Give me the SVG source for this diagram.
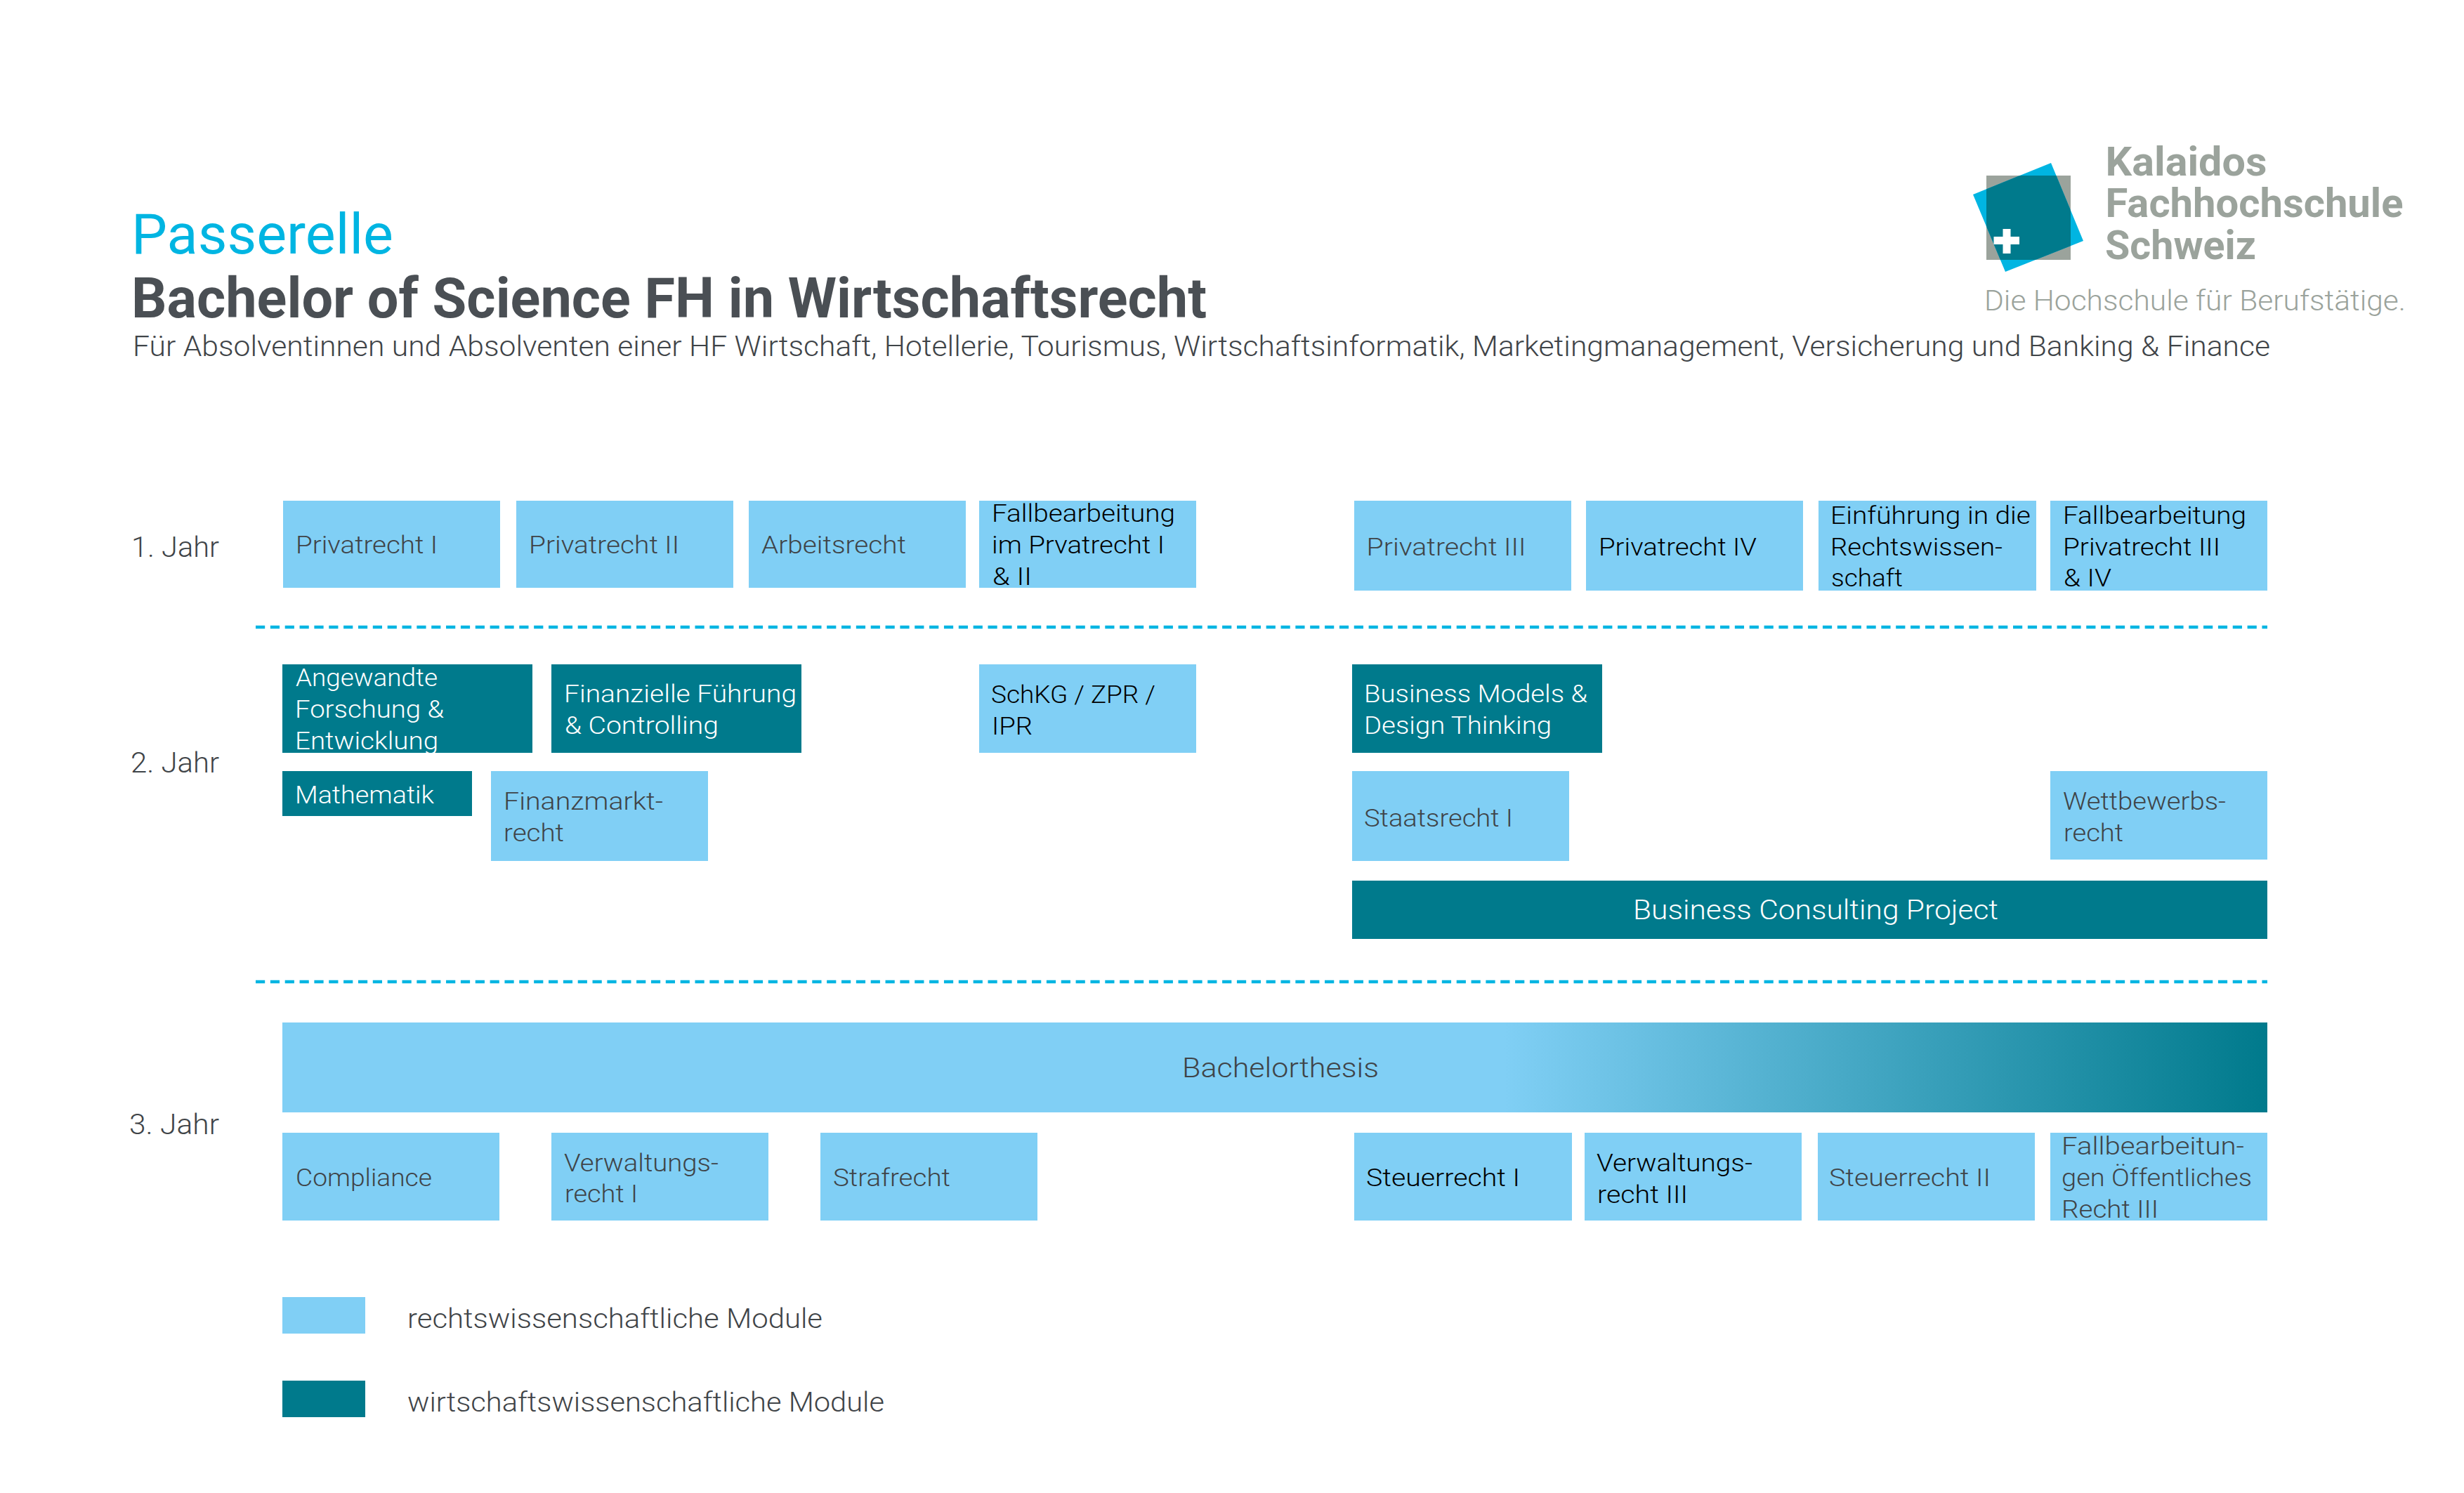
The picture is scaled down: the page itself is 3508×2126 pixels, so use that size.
<svg xmlns="http://www.w3.org/2000/svg" width="3508" height="2126" viewBox="0 0 3508 2126">
<defs>
<linearGradient id="thesis" gradientUnits="userSpaceOnUse" x1="2141" y1="0" x2="3228" y2="0">
<stop offset="0" stop-color="#80cff5"/><stop offset="1" stop-color="#007a8c"/>
</linearGradient>
<clipPath id="rot"><polygon points="2920,232 2966,343 2855,387 2809,277"/></clipPath>
</defs>
<style>
text{font-family:Roboto,"Liberation Sans",sans-serif;font-size:35px;font-weight:300;fill:#3f4448}
.l{fill:#80cff5}.t{fill:#007a8c}
.w{fill:#fff}.k{fill:#000}
.h38{font-size:38px}.h40{font-size:40px}
.div{stroke:#00b5e2;stroke-width:4.500;stroke-dasharray:13.200 7.650;fill:none}
.logo{fill:#9ba39c;font-weight:700;font-size:58px}
</style>
<rect width="3508" height="2126" fill="#fff"/>
<g id="logo">
<rect x="2828" y="250" width="120" height="120" fill="#9ba39c"/>
<polygon points="2920,232 2966,343 2855,387 2809,277" fill="#00b5e2"/>
<rect x="2828" y="250" width="120" height="120" fill="#007a8c" clip-path="url(#rot)"/>
<path d="M2851.500 326h11v11h12.500v11h-12.500v13h-11v-13h-13v-11h13z" fill="#fff"/>
<text class="logo" x="2997.500" y="250" textLength="230" lengthAdjust="spacingAndGlyphs">Kalaidos</text>
<text class="logo" x="2997.500" y="309" textLength="424" lengthAdjust="spacingAndGlyphs">Fachhochschule</text>
<text class="logo" x="2997" y="369" textLength="215" lengthAdjust="spacingAndGlyphs">Schweiz</text>
<text x="2825" y="442" textLength="600" lengthAdjust="spacingAndGlyphs" style="font-size:40px;fill:#9ba39c">Die Hochschule für Berufstätige.</text>
</g>
<g id="title">
<text x="187" y="361" textLength="373" lengthAdjust="spacingAndGlyphs" style="font-size:79px;font-weight:400;fill:#00b5e2">Passerelle</text>
<text x="187" y="452" textLength="1531" lengthAdjust="spacingAndGlyphs" style="font-size:79px;font-weight:700;fill:#4a4f54">Bachelor of Science FH in Wirtschaftsrecht</text>
<text class="h40" x="189" y="507" textLength="3043" lengthAdjust="spacingAndGlyphs">Für Absolventinnen und Absolventen einer HF Wirtschaft, Hotellerie, Tourismus, Wirtschaftsinformatik, Marketingmanagement, Versicherung und Banking &amp; Finance</text>
</g>
<g id="years">
<text class="h40" x="187" y="793" textLength="125" lengthAdjust="spacingAndGlyphs">1. Jahr</text>
<text class="h40" x="186" y="1100" textLength="126" lengthAdjust="spacingAndGlyphs">2. Jahr</text>
<text class="h40" x="184" y="1615" textLength="128" lengthAdjust="spacingAndGlyphs">3. Jahr</text>
</g>
<g id="connectors">
<line class="div" x1="364" y1="893" x2="3228" y2="893"/>
<line class="div" x1="364" y1="1398" x2="3228" y2="1398"/>
</g>
<g id="n1"><rect class="l" x="403" y="713" width="309" height="124"/><text x="421" y="788" textLength="202" lengthAdjust="spacingAndGlyphs">Privatrecht I</text></g>
<g id="n2"><rect class="l" x="735" y="713" width="309" height="124"/><text x="753" y="788" textLength="214" lengthAdjust="spacingAndGlyphs">Privatrecht II</text></g>
<g id="n3"><rect class="l" x="1066" y="713" width="309" height="124"/><text x="1084" y="788" textLength="206" lengthAdjust="spacingAndGlyphs">Arbeitsrecht</text></g>
<g id="n4"><rect class="l" x="1394" y="713" width="309" height="124"/><text class="k" x="1412" y="743" textLength="261" lengthAdjust="spacingAndGlyphs">Fallbearbeitung</text><text class="k" x="1412" y="788" textLength="246" lengthAdjust="spacingAndGlyphs">im Prvatrecht I</text><text class="k" x="1413" y="833" textLength="56" lengthAdjust="spacingAndGlyphs">&amp; II</text></g>
<g id="n5"><rect class="l" x="1928" y="713" width="309" height="128"/><text x="1945.500" y="791" textLength="227" lengthAdjust="spacingAndGlyphs">Privatrecht III</text></g>
<g id="n6"><rect class="l" x="2258" y="713" width="309" height="128"/><text class="k" x="2276" y="791" textLength="225" lengthAdjust="spacingAndGlyphs">Privatrecht IV</text></g>
<g id="n7"><rect class="l" x="2589" y="713" width="310" height="128"/><text class="k" x="2606" y="746" textLength="285" lengthAdjust="spacingAndGlyphs">Einführung in die</text><text class="k" x="2606" y="791" textLength="245" lengthAdjust="spacingAndGlyphs">Rechtswissen-</text><text class="k" x="2607" y="835" textLength="102" lengthAdjust="spacingAndGlyphs">schaft</text></g>
<g id="n8"><rect class="l" x="2919" y="713" width="309" height="128"/><text class="k" x="2937" y="746" textLength="261" lengthAdjust="spacingAndGlyphs">Fallbearbeitung</text><text class="k" x="2937" y="791" textLength="224" lengthAdjust="spacingAndGlyphs">Privatrecht III</text><text class="k" x="2938" y="835" textLength="68" lengthAdjust="spacingAndGlyphs">&amp; IV</text></g>
<g id="n9"><rect class="t" x="402" y="946" width="356" height="126"/><text class="w" x="421" y="977" textLength="202" lengthAdjust="spacingAndGlyphs">Angewandte</text><text class="w" x="420" y="1022" textLength="212" lengthAdjust="spacingAndGlyphs">Forschung &amp;</text><text class="w" x="420" y="1067" textLength="204" lengthAdjust="spacingAndGlyphs">Entwicklung</text></g>
<g id="n10"><rect class="t" x="785" y="946" width="356" height="126"/><text class="w" x="803" y="1000" textLength="331" lengthAdjust="spacingAndGlyphs">Finanzielle Führung</text><text class="w" x="804" y="1045" textLength="219" lengthAdjust="spacingAndGlyphs">&amp; Controlling</text></g>
<g id="n11"><rect class="l" x="1394" y="946" width="309" height="126"/><text class="k" x="1411" y="1001" textLength="234" lengthAdjust="spacingAndGlyphs">SchKG / ZPR /</text><text class="k" x="1412" y="1046" textLength="58" lengthAdjust="spacingAndGlyphs">IPR</text></g>
<g id="n12"><rect class="t" x="1925" y="946" width="356" height="126"/><text class="w" x="1942" y="1000" textLength="318" lengthAdjust="spacingAndGlyphs">Business Models &amp;</text><text class="w" x="1942" y="1045" textLength="267" lengthAdjust="spacingAndGlyphs">Design Thinking</text></g>
<g id="n13"><rect class="t" x="402" y="1098" width="270" height="64"/><text class="w" x="420" y="1144" textLength="198" lengthAdjust="spacingAndGlyphs">Mathematik</text></g>
<g id="n14"><rect class="l" x="699" y="1098" width="309" height="128"/><text x="717" y="1153" textLength="227" lengthAdjust="spacingAndGlyphs">Finanzmarkt-</text><text x="717" y="1198" textLength="86" lengthAdjust="spacingAndGlyphs">recht</text></g>
<g id="n15"><rect class="l" x="1925" y="1098" width="309" height="128"/><text x="1942" y="1177" textLength="212" lengthAdjust="spacingAndGlyphs">Staatsrecht I</text></g>
<g id="n16"><rect class="l" x="2919" y="1098" width="309" height="126"/><text x="2937" y="1153" textLength="232" lengthAdjust="spacingAndGlyphs">Wettbewerbs-</text><text x="2938" y="1198" textLength="85" lengthAdjust="spacingAndGlyphs">recht</text></g>
<g id="n17"><rect class="t" x="1925" y="1254" width="1303" height="83"/><text class="w h38" x="2325" y="1309" textLength="520" lengthAdjust="spacingAndGlyphs">Business Consulting Project</text></g>
<g id="n18"><rect x="402" y="1456" width="2826" height="128" fill="url(#thesis)"/><text class="h38" x="1683" y="1534" textLength="280" lengthAdjust="spacingAndGlyphs">Bachelorthesis</text></g>
<g id="n19"><rect class="l" x="402" y="1613" width="309" height="125"/><text x="421" y="1689" textLength="194" lengthAdjust="spacingAndGlyphs">Compliance</text></g>
<g id="n20"><rect class="l" x="785" y="1613" width="309" height="125"/><text x="803" y="1668" textLength="220" lengthAdjust="spacingAndGlyphs">Verwaltungs-</text><text x="804" y="1712" textLength="104" lengthAdjust="spacingAndGlyphs">recht I</text></g>
<g id="n21"><rect class="l" x="1168" y="1613" width="309" height="125"/><text x="1186" y="1689" textLength="167" lengthAdjust="spacingAndGlyphs">Strafrecht</text></g>
<g id="n22"><rect class="l" x="1928" y="1613" width="310" height="125"/><text class="k" x="1945" y="1689" textLength="219" lengthAdjust="spacingAndGlyphs">Steuerrecht I</text></g>
<g id="n23"><rect class="l" x="2256" y="1613" width="309" height="125"/><text class="k" x="2273" y="1668" textLength="222" lengthAdjust="spacingAndGlyphs">Verwaltungs-</text><text class="k" x="2274" y="1713" textLength="129" lengthAdjust="spacingAndGlyphs">recht III</text></g>
<g id="n24"><rect class="l" x="2588" y="1613" width="309" height="125"/><text x="2604" y="1689" textLength="230" lengthAdjust="spacingAndGlyphs">Steuerrecht II</text></g>
<g id="n25"><rect class="l" x="2919" y="1613" width="309" height="125"/><text x="2935" y="1644" textLength="260" lengthAdjust="spacingAndGlyphs">Fallbearbeitun-</text><text x="2935" y="1689" textLength="271" lengthAdjust="spacingAndGlyphs">gen Öffentliches</text><text x="2935" y="1734" textLength="138" lengthAdjust="spacingAndGlyphs">Recht III</text></g>
<g id="legend">
<rect class="l" x="402" y="1847" width="118" height="52"/><text class="h38" x="580" y="1891" textLength="591" lengthAdjust="spacingAndGlyphs">rechtswissenschaftliche Module</text>
<rect class="t" x="402" y="1966" width="118" height="52"/><text class="h38" x="580" y="2010" textLength="679" lengthAdjust="spacingAndGlyphs">wirtschaftswissenschaftliche Module</text>
</g>
</svg>
